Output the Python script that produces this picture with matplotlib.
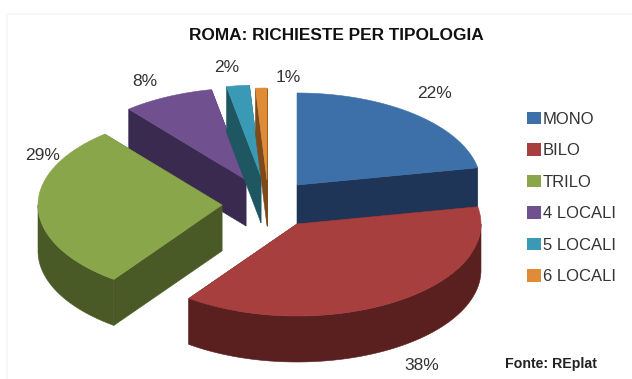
import numpy as np
import matplotlib
matplotlib.use("Agg")
import matplotlib.pyplot as plt
from matplotlib.patches import Patch

plt.rcParams['font.family'] = ['Liberation Sans', 'DejaVu Sans']

# share of requests per apartment type
categories = ["MONO", "BILO", "TRILO", "4 LOCALI", "5 LOCALI", "6 LOCALI"]
values = [22, 38, 29, 8, 2, 1]

top_colors = ["#3D70A9", "#A63F3E", "#8AA64B", "#70508F", "#3A9AB5", "#E08B36"]
side_colors = ["#1F3558", "#5A1F1F", "#4A5A26", "#3B2A4F", "#1E5662", "#7C4A1B"]

# exploded slice tips, in pixels
tips = [(297, 185), (297, 224), (222, 205), (246, 180), (261, 177), (267, 180)]
label_pos = [(435, 94), (422, 365), (43, 155), (145, 82), (227, 68), (288, 77)]

rx, ry = 184, 92
depth = 46


def ring(cx, cy, a0, a1):
    # angles are clockwise from 12 o'clock
    t = np.radians(np.linspace(a0, a1, 120))
    return cx + rx * np.sin(t), cy - ry * np.cos(t)


fig = plt.figure(figsize=(6.32, 3.79), dpi=100)
ax = fig.add_axes([0, 0, 1, 1])
ax.set_xlim(0, 632)
ax.set_ylim(379, 0)
ax.axis('off')

# faint chart frame, left and top
ax.plot([7, 7, 632], [379, 14, 14], color="#F7F7F7", lw=1.5)

edges = np.concatenate([[0], np.cumsum(values)]) * 3.6

# back slices first, the front ones paint over them
for i in [0, 3, 4, 5, 2, 1]:
    cx, cy = tips[i]
    a0, a1 = edges[i], edges[i + 1]
    x, y = ring(cx, cy, a0, a1)
    side = dict(color=side_colors[i], lw=0.4)

    # flat cut faces
    for xe, ye in [(x[0], y[0]), (x[-1], y[-1])]:
        ax.fill([cx, xe, xe, cx], [cy, ye, ye + depth, cy + depth], **side)

    # rounded outer wall, only the part turned towards the viewer
    lo, hi = max(a0, 90), min(a1, 270)
    if lo < hi:
        xw, yw = ring(cx, cy, lo, hi)
        ax.fill(np.r_[xw, xw[::-1]], np.r_[yw, yw[::-1] + depth], **side)

    ax.fill(np.r_[cx, x], np.r_[cy, y], color=top_colors[i], lw=0.4)

for (lx, ly), v in zip(label_pos, values):
    ax.text(lx, ly, f"{v}%", fontsize=12.5, color="#333333", ha='center', va='center')

ax.text(336, 35.5, "ROMA: RICHIESTE PER TIPOLOGIA", fontsize=12.4, fontweight='bold',
        color="#111111", ha='center', va='center')
ax.text(551, 364, "Fonte: REplat", fontsize=10.2, fontweight='bold',
        color="#222222", ha='center', va='center')

handles = [Patch(facecolor=c, edgecolor='none') for c in top_colors]
ax.legend(handles, categories, loc='upper left', bbox_to_anchor=(520.5 / 632, 1 - 105 / 379),
          frameon=False, fontsize=12, labelcolor="#333333", handlelength=0.8,
          handleheight=0.8, handletextpad=0.15, labelspacing=0.98,
          borderpad=0, borderaxespad=0.4)

fig.savefig("out.png", dpi=100)
